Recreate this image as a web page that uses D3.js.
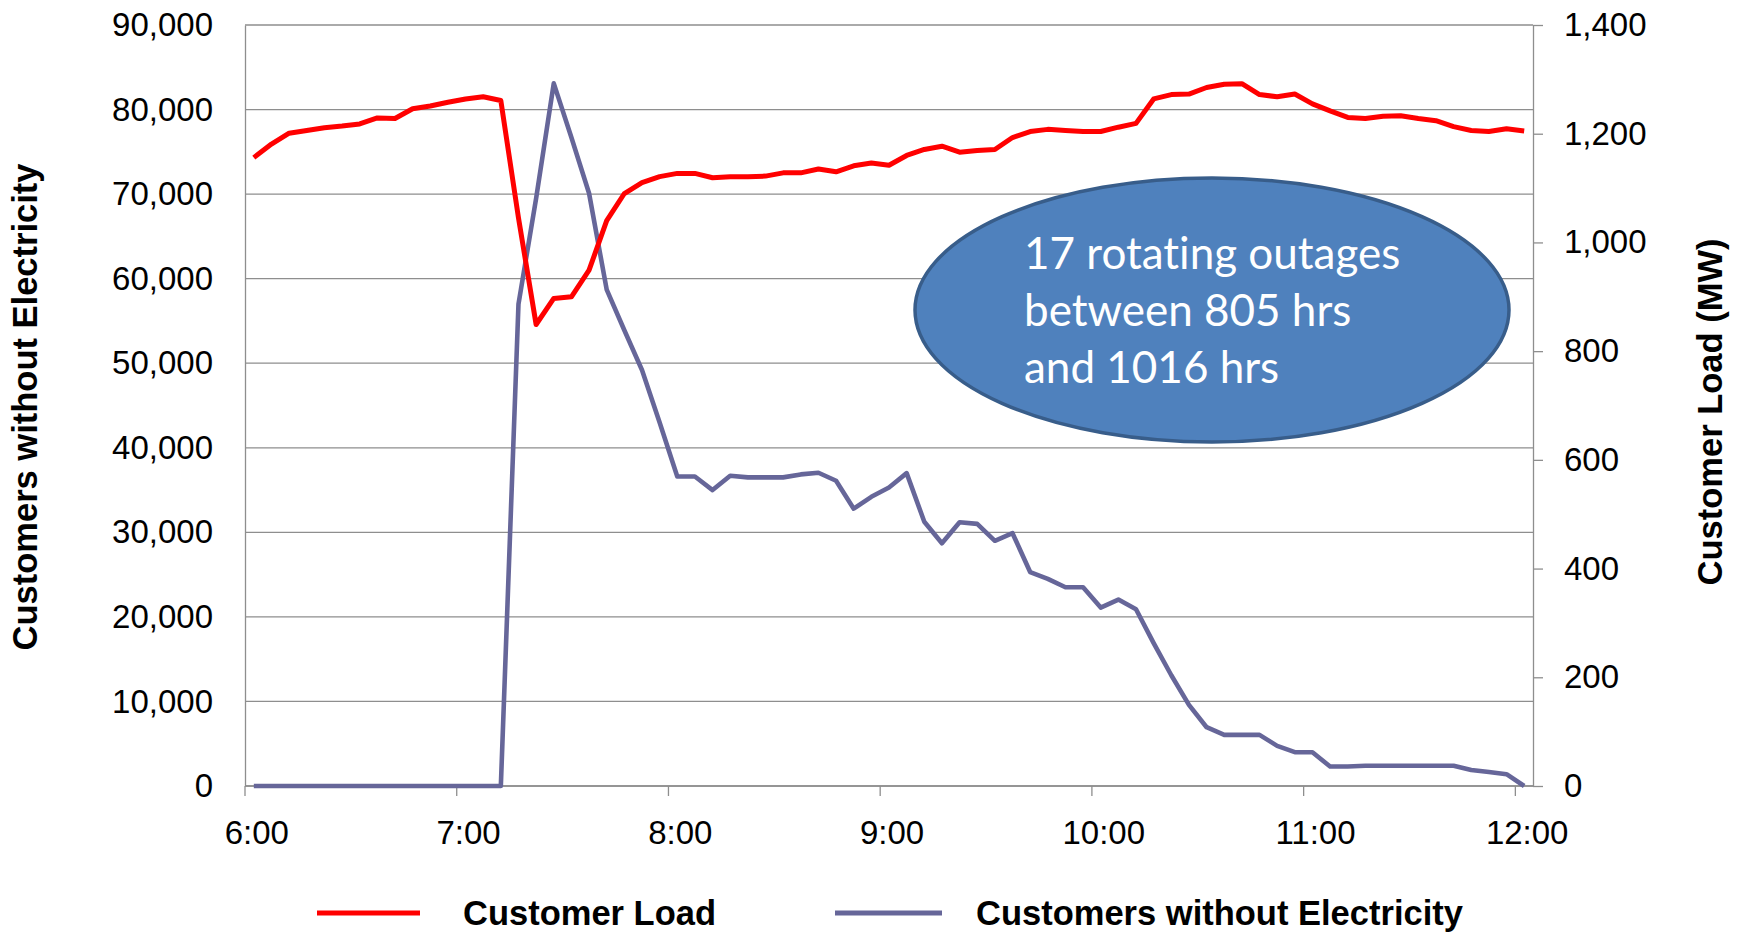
<!DOCTYPE html>
<html>
<head>
<meta charset="utf-8">
<script src="https://cdnjs.cloudflare.com/ajax/libs/d3/7.8.5/d3.min.js"></script>
<style>
  body { margin: 0; background: #fff; }
  svg { display: block; }
</style>
</head>
<body>
<div id="wrapper"></div>
<script>
// 5-minute categories, 6:00 .. 12:00
const times = [
  "6:00","6:05","6:10","6:15","6:20","6:25","6:30","6:35","6:40","6:45","6:50","6:55",
  "7:00","7:05","7:10","7:15","7:20","7:25","7:30","7:35","7:40","7:45","7:50","7:55",
  "8:00","8:05","8:10","8:15","8:20","8:25","8:30","8:35","8:40","8:45","8:50","8:55",
  "9:00","9:05","9:10","9:15","9:20","9:25","9:30","9:35","9:40","9:45","9:50","9:55",
  "10:00","10:05","10:10","10:15","10:20","10:25","10:30","10:35","10:40","10:45","10:50","10:55",
  "11:00","11:05","11:10","11:15","11:20","11:25","11:30","11:35","11:40","11:45","11:50","11:55",
  "12:00"
]
const hourLabels = ["6:00","7:00","8:00","9:00","10:00","11:00","12:00"]

// Customer Load (MW), right axis
const customerLoad = [
  1156,1181,1201,1206,1211,1214,1218,1229,1228,1246,1251,1258,
  1264,1268,1261,1045,849,897,900,949,1040,1090,1110,1121,
  1127,1127,1119,1121,1121,1122,1128,1128,1135,1130,1141,1146,
  1142,1160,1171,1177,1166,1169,1171,1193,1204,1208,1206,1204,
  1204,1212,1219,1264,1272,1273,1285,1291,1292,1272,1268,1273,
  1255,1242,1230,1228,1232,1233,1228,1224,1213,1206,1204,1209,
  1205
]

// Customers without Electricity, left axis
const customersOut = [
  0,0,0,0,0,0,0,0,0,0,0,0,
  0,0,0,57000,69500,83100,76700,70100,58700,53900,49200,43000,
  36600,36600,35000,36700,36500,36500,36500,36850,37050,36100,32800,34200,
  35300,37000,31250,28700,31200,31000,29000,29900,25300,24500,23500,23500,
  21100,22050,20900,16900,13100,9600,6950,6050,6050,6050,4750,4000,
  4000,2300,2300,2400,2400,2400,2400,2400,2400,1900,1650,1400,
  0
]

const leftTicks = [0,10000,20000,30000,40000,50000,60000,70000,80000,90000]
const rightTicks = [0,200,400,600,800,1000,1200,1400]
const noteLines = ["17 rotating outages", "between 805 hrs", "and 1016 hrs"]

const dimensions = {
  width: 1746,
  height: 933,
  margin: { top: 25, right: 213, bottom: 147, left: 245 },
}
dimensions.boundedWidth = dimensions.width - dimensions.margin.left - dimensions.margin.right
dimensions.boundedHeight = dimensions.height - dimensions.margin.top - dimensions.margin.bottom

const wrapper = d3.select("#wrapper")
  .append("svg")
  .attr("width", dimensions.width)
  .attr("height", dimensions.height)

const bounds = wrapper.append("g")
  .attr("transform", `translate(${dimensions.margin.left},${dimensions.margin.top})`)

const xScaler = d3.scaleBand()
  .domain(times)
  .range([0, dimensions.boundedWidth])
  .padding(0)
const xMid = d => xScaler(d) + xScaler.bandwidth() / 2

const yLeft = d3.scaleLinear()
  .domain([0, 90000])
  .range([dimensions.boundedHeight, 0])
const yRight = d3.scaleLinear()
  .domain([0, 1400])
  .range([dimensions.boundedHeight, 0])

const axisFont = "'Liberation Sans', Arial, sans-serif"
const gridColor = "#8e8e8e"

// gridlines
bounds.append("g")
  .selectAll("line")
  .data(leftTicks)
  .join("line")
  .attr("x1", 0)
  .attr("x2", dimensions.boundedWidth)
  .attr("y1", d => yLeft(d))
  .attr("y2", d => yLeft(d))
  .attr("stroke", gridColor)
  .attr("stroke-width", 1.3)

// left axis
const yAxisGen = d3.axisLeft(yLeft)
  .tickValues(leftTicks)
  .tickFormat(d3.format(","))
  .tickSize(0)
  .tickPadding(32)
const yAxis = bounds.append("g").call(yAxisGen)
yAxis.select(".domain").attr("stroke", gridColor).attr("stroke-width", 1.3)
yAxis.selectAll("text")
  .attr("font-family", axisFont)
  .attr("font-size", "33px")
  .attr("fill", "#000")

// right axis
const yAxisRightGen = d3.axisRight(yRight)
  .tickValues(rightTicks)
  .tickFormat(d3.format(","))
  .tickSizeInner(10)
  .tickSizeOuter(0)
  .tickPadding(21)
const yAxisRight = bounds.append("g")
  .attr("transform", `translate(${dimensions.boundedWidth},0)`)
  .call(yAxisRightGen)
yAxisRight.selectAll("line, .domain").attr("stroke", gridColor).attr("stroke-width", 1.3)
yAxisRight.selectAll("text")
  .attr("font-family", axisFont)
  .attr("font-size", "33px")
  .attr("fill", "#000")

// x axis: ticks at category edges of each hour, labels at category centre
const xAxis = bounds.append("g")
  .attr("transform", `translate(0,${dimensions.boundedHeight})`)
xAxis.append("line")
  .attr("x1", 0).attr("x2", dimensions.boundedWidth)
  .attr("stroke", gridColor).attr("stroke-width", 1.3)
xAxis.selectAll(".tick")
  .data(hourLabels)
  .join("line")
  .attr("class", "tick")
  .attr("x1", d => xScaler(d)).attr("x2", d => xScaler(d))
  .attr("y1", 0).attr("y2", 10)
  .attr("stroke", gridColor).attr("stroke-width", 1.3)
xAxis.selectAll(".lbl")
  .data(hourLabels)
  .join("text")
  .attr("class", "lbl")
  .attr("x", d => xMid(d) + 3)
  .attr("y", 58)
  .attr("text-anchor", "middle")
  .attr("font-family", axisFont)
  .attr("font-size", "33px")
  .text(d => d)

// lines
const lineLoad = d3.line()
  .x((d, i) => xMid(times[i]))
  .y(d => yRight(d))
const lineOut = d3.line()
  .x((d, i) => xMid(times[i]))
  .y(d => yLeft(d))

bounds.append("path")
  .datum(customersOut)
  .attr("d", lineOut)
  .attr("fill", "none")
  .attr("stroke", "#666699")
  .attr("stroke-width", 4.6)
  .attr("stroke-linejoin", "round")

bounds.append("path")
  .datum(customerLoad)
  .attr("d", lineLoad)
  .attr("fill", "none")
  .attr("stroke", "#ff0000")
  .attr("stroke-width", 5)
  .attr("stroke-linejoin", "round")

// callout ellipse
wrapper.append("ellipse")
  .attr("cx", 1212)
  .attr("cy", 310)
  .attr("rx", 297)
  .attr("ry", 132)
  .attr("fill", "#4f81bd")
  .attr("stroke", "#385d8a")
  .attr("stroke-width", 3.5)

wrapper.append("g")
  .selectAll("text")
  .data(noteLines)
  .join("text")
  .attr("x", 1024)
  .attr("y", (d, i) => 269 + i * 57)
  .attr("fill", "#fff")
  .attr("font-family", "Lato, 'Open Sans', sans-serif")
  .attr("font-size", "44px")
  .style("font-variant-ligatures", "none")
  .text(d => d)

// axis titles
wrapper.append("text")
  .attr("transform", "translate(37,407) rotate(-90)")
  .attr("text-anchor", "middle")
  .attr("font-family", axisFont)
  .attr("font-weight", "bold")
  .attr("font-size", "34.5px")
  .text("Customers without Electricity")

wrapper.append("text")
  .attr("transform", "translate(1722,412) rotate(-90)")
  .attr("text-anchor", "middle")
  .attr("font-family", axisFont)
  .attr("font-weight", "bold")
  .attr("font-size", "34.5px")
  .text("Customer Load (MW)")

// legend
const legend = wrapper.append("g")
const legendItems = [
  { name: "Customer Load", color: "#ff0000", x1: 317, x2: 420, tx: 463 },
  { name: "Customers without Electricity", color: "#666699", x1: 835, x2: 942, tx: 976 },
]
legend.selectAll("line")
  .data(legendItems)
  .join("line")
  .attr("x1", d => d.x1).attr("x2", d => d.x2)
  .attr("y1", 913).attr("y2", 913)
  .attr("stroke", d => d.color)
  .attr("stroke-width", 5)
legend.selectAll("text")
  .data(legendItems)
  .join("text")
  .attr("x", d => d.tx)
  .attr("y", 925)
  .attr("font-family", axisFont)
  .attr("font-weight", "bold")
  .attr("font-size", "34.5px")
  .text(d => d.name)
</script>
</body>
</html>
